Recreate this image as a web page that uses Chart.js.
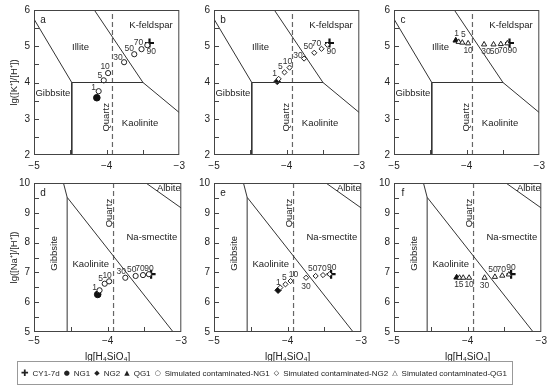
<!DOCTYPE html>
<html>
<head>
<meta charset="utf-8">
<script src="https://cdn.jsdelivr.net/npm/chart.js@4.4.1/dist/chart.umd.min.js"></script>
<style>
body { margin: 0; background: #fff; width: 550px; height: 390px; position: relative; overflow: hidden; font-family: "Liberation Sans", Arial, sans-serif; }
canvas { position: absolute; }
#legend { position: absolute; left: 17px; top: 361px; width: 486px; height: 22px; padding: 0 5px 0 3px; border: 1px solid #999; display: flex; align-items: center; justify-content: space-between; font-size: 8px; color: #222; white-space: nowrap; }
#legend .it { display: flex; align-items: center; }
#legend .sym { font-family: "DejaVu Sans", sans-serif; font-size: 7px; margin-right: 4px; }
</style>
</head>
<body>
<canvas id="pa" width="190" height="175" style="left:0;top:0"></canvas>
<canvas id="pb" width="190" height="175" style="left:180px;top:0"></canvas>
<canvas id="pc" width="190" height="175" style="left:360px;top:0"></canvas>
<canvas id="pd" width="190" height="195" style="left:0;top:170px"></canvas>
<canvas id="pe" width="190" height="195" style="left:180px;top:170px"></canvas>
<canvas id="pf" width="190" height="195" style="left:360px;top:170px"></canvas>
<div id="legend">
  <span class="it"><span class="sym" style="font-size:9px">✚</span>CY1-7d</span>
  <span class="it"><span class="sym">●</span>NG1</span>
  <span class="it"><span class="sym">◆</span>NG2</span>
  <span class="it"><span class="sym">▲</span>QG1</span>
  <span class="it"><span class="sym">○</span>Simulated contaminated-NG1</span>
  <span class="it"><span class="sym">◇</span>Simulated contaminated-NG2</span>
  <span class="it"><span class="sym">△</span>Simulated contaminated-QG1</span>
</div>
<script>
const ratioLabels = ["1", "5", "10", "30", "50", "70", "90"];

// K+ system (panels a-c)
const kSimNG1X = [-4.11, -4.04, -3.98, -3.76, -3.62, -3.52, -3.44];
const kSimNG1Y = [3.76, 4.06, 4.26, 4.56, 4.78, 4.92, 5.03];
const kSimNG2X = [-4.11, -4.03, -3.96, -3.76, -3.62, -3.52, -3.44];
const kSimNG2Y = [4.10, 4.28, 4.41, 4.66, 4.82, 4.93, 5.04];
const kSimQG1X = [-4.11, -4.06, -3.98, -3.76, -3.63, -3.53, -3.44];
const kSimQG1Y = [5.12, 5.10, 5.08, 5.05, 5.05, 5.06, 5.08];

// Na+ system (panels d-f)
const naSimNG1X = [-4.11, -4.04, -3.98, -3.76, -3.62, -3.52, -3.44];
const naSimNG1Y = [6.40, 6.62, 6.70, 6.82, 6.88, 6.91, 6.94];
const naSimNG2X = [-4.10, -4.03, -3.96, -3.75, -3.62, -3.52, -3.43];
const naSimNG2Y = [6.49, 6.60, 6.71, 6.82, 6.88, 6.91, 6.94];
const naSimQG1X = [-4.11, -4.06, -3.98, -3.77, -3.63, -3.53, -3.44];
const naSimQG1Y = [6.82, 6.82, 6.82, 6.82, 6.85, 6.89, 6.93];

// measured samples [lg H4SiO4, lg ratio]
const cy1K = [-3.41, 5.09];
const ng1K = [-4.135, 3.58];
const ng2K = [-4.13, 4.03];
const qg1K = [-4.15, 5.16];
const cy1Na = [-3.41, 6.94];
const ng1Na = [-4.135, 6.26];
const ng2Na = [-4.13, 6.40];
const qg1Na = [-4.15, 6.83];

// stability field boundaries
const kBoundX = [[-5, -4.48], [-4.48, -3.5], [-4.48, -4.48], [-4.17, -3.5], [-3.5, -3]];
const kBoundY = [[5.75, 4], [4, 4], [4, 2], [6, 4], [4, 3.17]];
const naBoundX = [[-4.55, -4.55], [-4.6, -4.55], [-4.55, -3.11], [-3.48, -3]];
const naBoundY = [[5, 9.52], [10, 9.52], [9.52, 5], [10, 9.16]];
const quartzX = -3.92;

const kFields = [
    { t: "Illite", x: -4.36, y: 4.98 },
    { t: "K-feldspar", x: -3.39, y: 5.58 },
    { t: "Gibbsite", x: -4.74, y: 3.69 },
    { t: "Quartz", x: -4.01, y: 3.04, rot: true },
    { t: "Kaolinite", x: -3.54, y: 2.88 },
];
const naFields = [
    { t: "Albite", x: -3.17, y: 9.81 },
    { t: "Quartz", x: -3.98, y: 8.99, rot: true },
    { t: "Na-smectite", x: -3.4, y: 8.17 },
    { t: "Gibbsite", x: -4.73, y: 7.64, rot: true },
    { t: "Kaolinite", x: -4.23, y: 7.27 },
];

// label offsets (px) for the ratio labels
const offA = [[-5, -4], [-4, -5], [-3, -6], [-6, -5], [-5, -6], [-3, -6], [4, 6]];
const offB = [[-4, -5], [-4, -6], [-2, -6], [-6, -3], [-6, -6], [-5, -5], [4, 7]];
const offC = [[-2, -8], [1, -8], [0, 7], [2, 7], [1, 7], [2, 7], [5, 7]];
const offD = [[-5, -3], [-4, -5], [-2, -6], [-4, -6], [-4, -6], [-3, -6], [0, -6]];
const offE = [[-2, -5], [-1, -7], [3, -6], [0, 9], [-3, -7], [-1, -6], [2, -7]];
const offF = [[-3, 7], [-2, 7], [0, 7], [0, 8], [-2, -7], [-1, -6], [2, -7]];

const FONT = "'Liberation Sans', Arial, sans-serif";

function fmtTick(v) {
    return v < 0 ? "\u2212" + Math.abs(v) : String(v);
}

function toPts(xs, ys) {
    return xs.map((x, i) => ({ x: x, y: ys[i] }));
}

const frameTicks = {
    id: "frameTicks",
    afterDraw(chart, args, opts) {
        const { ctx, chartArea: a, scales } = chart;
        const x = scales.x, y = scales.y;
        ctx.save();
        ctx.strokeStyle = "#444";
        ctx.lineWidth = 1;
        ctx.strokeRect(a.left + 0.5, a.top + 0.5, a.width - 1, a.height - 1);
        ctx.beginPath();
        for (let v = x.min + 0.5; v < x.max - 0.01; v += 0.5) {
            const px = Math.round(x.getPixelForValue(v)) + 0.5;
            ctx.moveTo(px, a.bottom);
            ctx.lineTo(px, a.bottom - 5);
        }
        for (let v = y.min + 0.5; v < y.max - 0.01; v += 0.5) {
            const py = Math.round(y.getPixelForValue(v)) + 0.5;
            ctx.moveTo(a.left, py);
            ctx.lineTo(a.left + 5, py);
        }
        ctx.stroke();

        ctx.fillStyle = "#222";
        ctx.textAlign = "center";
        ctx.textBaseline = "middle";
        ctx.font = "9.5px " + FONT;
        (opts.fields || []).forEach(function (f) {
            const px = x.getPixelForValue(f.x);
            const py = y.getPixelForValue(f.y);
            ctx.save();
            ctx.translate(px, py);
            if (f.rot) ctx.rotate(-Math.PI / 2);
            ctx.fillText(f.t, 0, 0);
            ctx.restore();
        });
        ctx.font = "10px " + FONT;
        ctx.fillText(opts.letter, a.left + 9, a.top + 10);

        ctx.font = "8.5px " + FONT;
        ctx.fillStyle = "#333";
        chart.data.datasets.forEach(function (ds, i) {
            if (!ds.ptLabels) return;
            const meta = chart.getDatasetMeta(i);
            meta.data.forEach(function (el, j) {
                const o = ds.ptOffsets[j];
                ctx.fillText(ds.ptLabels[j], el.x + o[0], el.y + o[1]);
            });
        });
        ctx.restore();
    },
};

function makePanel(id, p) {
    const datasets = [];
    p.boundX.forEach(function (bx, i) {
        datasets.push({
            data: toPts(bx, p.boundY[i]),
            showLine: true,
            borderColor: "#333",
            borderWidth: 1,
            pointRadius: 0,
        });
    });
    datasets.push({
        data: [{ x: quartzX, y: p.ymin }, { x: quartzX, y: p.ymax }],
        showLine: true,
        borderColor: "#666",
        borderWidth: 1.2,
        borderDash: [5, 3],
        pointRadius: 0,
    });
    datasets.push({
        data: toPts(p.simX, p.simY),
        pointStyle: p.style,
        pointRadius: p.style === "triangle" ? 3 : 2.6,
        pointBackgroundColor: "#fff",
        pointBorderColor: "#222",
        pointBorderWidth: 1,
        ptLabels: ratioLabels,
        ptOffsets: p.offsets,
    });
    datasets.push({
        data: [{ x: p.sample[0], y: p.sample[1] }],
        pointStyle: p.style,
        pointRadius: p.style === "circle" ? 3.3 : 3.2,
        pointBackgroundColor: "#111",
        pointBorderColor: "#111",
        pointBorderWidth: 1,
    });
    datasets.push({
        data: [{ x: p.cy1[0], y: p.cy1[1] }],
        pointStyle: "cross",
        pointRadius: 4.5,
        pointBorderColor: "#111",
        pointBorderWidth: 2.2,
    });

    const top = p.row === 0;
    return new Chart(document.getElementById(id), {
        type: "scatter",
        data: { datasets: datasets },
        plugins: [frameTicks],
        options: {
            responsive: false,
            animation: false,
            events: [],
            layout: { padding: { top: top ? 7 : 13, right: 8, left: 0, bottom: 0 } },
            plugins: {
                legend: { display: false },
                tooltip: { enabled: false },
                frameTicks: { fields: p.fields, letter: p.letter },
            },
            scales: {
                x: {
                    type: "linear",
                    min: -5,
                    max: -3,
                    grid: { display: false, drawTicks: false },
                    border: { display: false },
                    ticks: {
                        stepSize: 1,
                        padding: top ? 5 : 3,
                        color: "#222",
                        font: { size: 10, family: FONT },
                        callback: fmtTick,
                        maxRotation: 0,
                    },
                    title: {
                        display: !top,
                        text: "lg[H\u2084SiO\u2084]",
                        color: "#222",
                        font: { size: 10, family: FONT },
                        padding: { top: 0, bottom: 2 },
                    },
                    afterFit: function (s) { s.height = top ? 20 : 33; },
                },
                y: {
                    type: "linear",
                    min: p.ymin,
                    max: p.ymax,
                    grid: { display: false, drawTicks: false },
                    border: { display: false },
                    ticks: {
                        stepSize: 1,
                        padding: 4,
                        color: "#222",
                        font: { size: 10, family: FONT },
                    },
                    title: {
                        display: !!p.ytitle,
                        text: p.ytitle || "",
                        color: "#222",
                        font: { size: 9.5, family: FONT },
                        padding: { top: 9, bottom: 0 },
                    },
                    afterFit: function (s) { s.width = 34; },
                },
            },
        },
    });
}

makePanel("pa", { row: 0, letter: "a", ymin: 2, ymax: 6, boundX: kBoundX, boundY: kBoundY, fields: kFields,
    simX: kSimNG1X, simY: kSimNG1Y, style: "circle", sample: ng1K, cy1: cy1K, offsets: offA,
    ytitle: "lg([K\u207A]/[H\u207A])" });
makePanel("pb", { row: 0, letter: "b", ymin: 2, ymax: 6, boundX: kBoundX, boundY: kBoundY, fields: kFields,
    simX: kSimNG2X, simY: kSimNG2Y, style: "rectRot", sample: ng2K, cy1: cy1K, offsets: offB });
makePanel("pc", { row: 0, letter: "c", ymin: 2, ymax: 6, boundX: kBoundX, boundY: kBoundY, fields: kFields,
    simX: kSimQG1X, simY: kSimQG1Y, style: "triangle", sample: qg1K, cy1: cy1K, offsets: offC });
makePanel("pd", { row: 1, letter: "d", ymin: 5, ymax: 10, boundX: naBoundX, boundY: naBoundY, fields: naFields,
    simX: naSimNG1X, simY: naSimNG1Y, style: "circle", sample: ng1Na, cy1: cy1Na, offsets: offD,
    ytitle: "lg([Na\u207A]/[H\u207A])" });
makePanel("pe", { row: 1, letter: "e", ymin: 5, ymax: 10, boundX: naBoundX, boundY: naBoundY, fields: naFields,
    simX: naSimNG2X, simY: naSimNG2Y, style: "rectRot", sample: ng2Na, cy1: cy1Na, offsets: offE });
makePanel("pf", { row: 1, letter: "f", ymin: 5, ymax: 10, boundX: naBoundX, boundY: naBoundY, fields: naFields,
    simX: naSimQG1X, simY: naSimQG1Y, style: "triangle", sample: qg1Na, cy1: cy1Na, offsets: offF });
</script>
</body>
</html>
